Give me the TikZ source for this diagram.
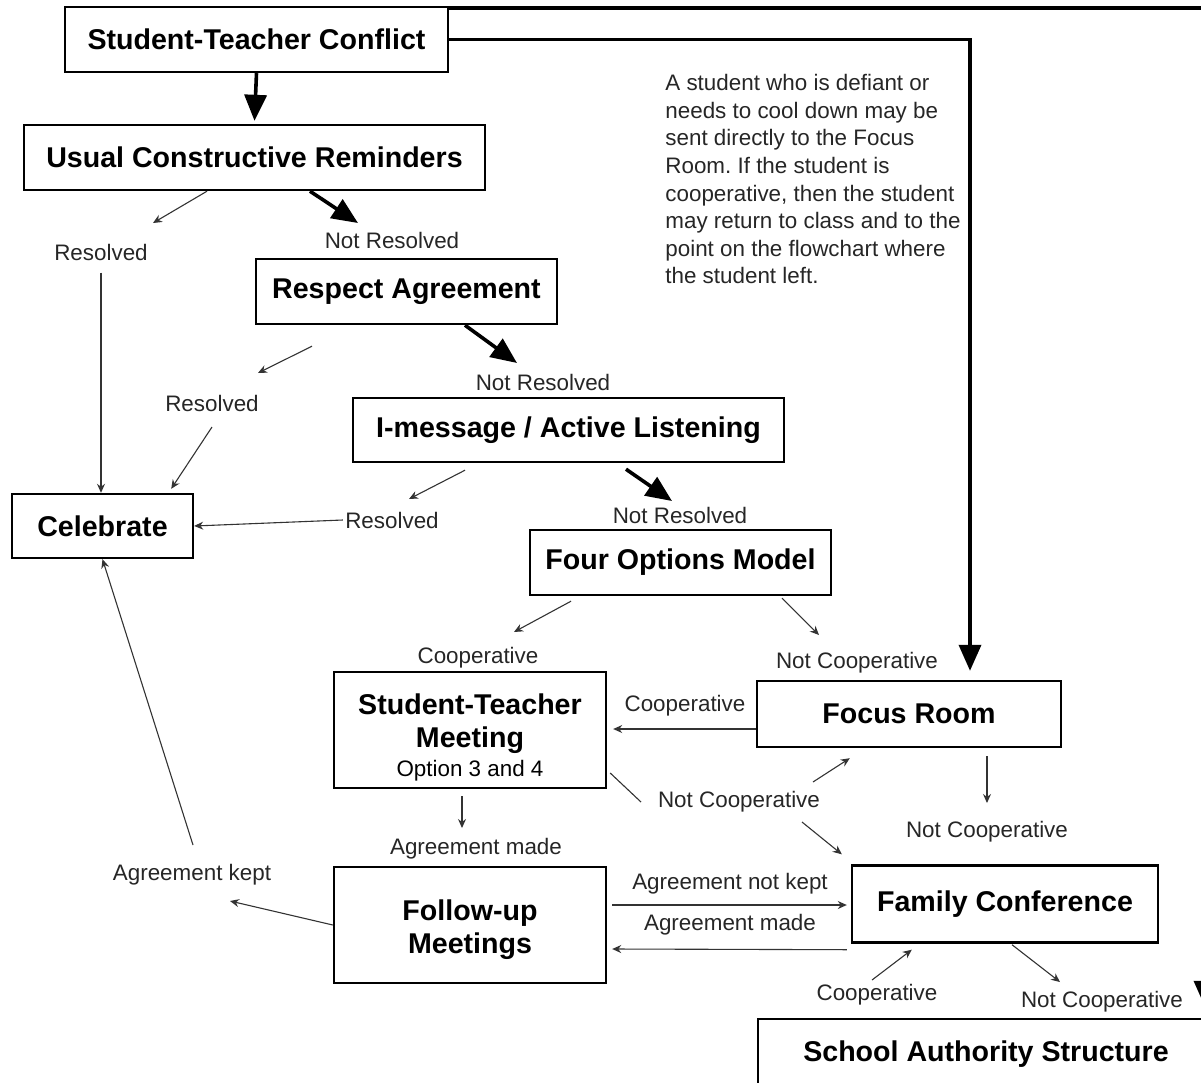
\documentclass[tikz,border=0pt]{standalone}
\usepackage{fontspec}
\setmainfont{Liberation Sans}
\usepackage{tikz}
\usetikzlibrary{positioning, calc, arrows.meta}
\frenchspacing
\tikzset{
    box/.style={
        draw, rectangle,
        line width=1.2pt,
        inner sep=0pt,
        align=center,
        font=\fontsize{14.3pt}{16.5pt}\selectfont\bfseries
    },
    boxtext/.style={
        inner sep=0pt,
        align=center,
        font=\fontsize{14.3pt}{16.5pt}\selectfont\bfseries
    },
    lbl/.style={
        inner sep=1pt,
        text=black!85,
        font=\fontsize{11.2pt}{13.8pt}\selectfont
    },
    thinarr/.style={
        draw=black!80,
        line width=0.55pt,
        ->,>={Stealth[length=4.5pt,width=4pt]}
    },
    thickarr/.style={
        draw,
        line width=1.8pt,
        ->,>={Triangle[length=13pt,width=11pt]}
    },
    thinline/.style={draw=black!80, line width=0.55pt}
}

\begin{document}
\begin{tikzpicture}[x=0.5pt,y=-0.5pt]
        \useasboundingbox (0,0) rectangle (1201,1083);
        \clip (0,0) rectangle (1201,1083);

        \node[box, minimum width=191.5pt, minimum height=32.5pt] (conflict) at (256.5,39.5) {Student-Teacher Conflict};
        \node[box, minimum width=230.5pt, minimum height=32.5pt] (reminders) at (254.5,157.5) {Usual Constructive Reminders};
        \node[box, minimum width=150.5pt, minimum height=32.5pt] (respect) at (406.5,291.5) {Respect Agreement};
        \node[box, minimum width=215.5pt, minimum height=32pt] (imsg) at (568.5,430) {I-message / Active Listening};
        \node[box, minimum width=90.5pt, minimum height=32pt] (celebrate) at (102.5,526) {Celebrate};
        \node[box, minimum width=150.5pt, minimum height=32.5pt] (fourop) at (680.5,562.5) {Four Options Model};
        \node[box, minimum width=136pt, minimum height=58pt] (stmeet) at (470,730) {};
        \node[boxtext] (stmeetT) at (470,737.5) {Student-Teacher\\Meeting\\[-2pt]{\mdseries\fontsize{11.2pt}{13.8pt}\selectfont Option 3 and 4}};
        \node[box, minimum width=152pt, minimum height=33pt] (focus) at (909,714) {Focus Room};
        \node[box, minimum width=136pt, minimum height=58pt] (followup) at (470,925) {};
        \node[boxtext] (followupT) at (470,930) {Follow-up\\Meetings};
        \node[box, minimum width=153pt, minimum height=38.5pt] (family) at (1005,904) {Family Conference};
        \node[box, minimum width=228pt, minimum height=35.5pt] (authority) at (986,1054.5) {School Authority Structure};

        \node[lbl] (resA) at (101,252) {Resolved};
        \node[lbl] (notresA) at (392,240) {Not Resolved};
        \node[lbl] (resB) at (212,403) {Resolved};
        \node[lbl] (notresB) at (543,382) {Not Resolved};
        \node[lbl] (resC) at (392,520) {Resolved};
        \node[lbl] (notresC) at (680,515) {Not Resolved};
        \node[lbl] (coopA) at (478,658) {Cooperative};
        \node[lbl] (notcoopA) at (857,663) {Not Cooperative};
        \node[lbl] (coopB) at (685,706) {Cooperative};
        \node[lbl] (notcoopB) at (739,802) {Not Cooperative};
        \node[lbl] (notcoopC) at (987,832) {Not Cooperative};
        \node[lbl] (agrmadeA) at (476,849) {Agreement made};
        \node[lbl] (agrkept) at (192,875) {Agreement kept};
        \node[lbl] (notkept) at (730,884) {Agreement not kept};
        \node[lbl] (agrmadeB) at (730,925) {Agreement made};
        \node[lbl] (coopC) at (877,995) {Cooperative};
        \node[lbl] (notcoopD) at (1102,1002) {Not Cooperative};

        \node[lbl, inner sep=0pt, align=left, anchor=north west] (note) at (665,74) {A student who is defiant or\\needs to cool down may be\\sent directly to the Focus\\Room. If the student is\\cooperative, then the student\\may return to class and to the\\point on the flowchart where\\the student left.};

        \draw[thickarr] (conflict.south) -- ([yshift=1.5pt]reminders.north);
        \draw[thickarr] (conflict.east) -| ($(focus.north)+(61,-9)$);
        \draw[thickarr] ($(conflict.north east)+(0,2)$) -| ($(authority.north)+(219,-11)$);

        \draw[thinarr] ($(reminders.south)+(-47.5,0)$) -- ($(resA)+(52,-29)$);
        \draw[thickarr] ($(reminders.south)+(55.5,0)$) -- ($(notresA)+(-34,-17)$);
        \draw[thinarr, shorten <=5pt] (resA.south) -- (resA.south |- celebrate.north);

        \draw[thinarr] ($(respect.south)+(-94.5,21)$) -- ($(resB)+(46,-30)$);
        \draw[thickarr] ($(respect.south)+(58.5,0)$) -- ($(notresB)+(-26,-19)$);
        \draw[thinarr] ($(resB)+(0,24)$) -- ($(celebrate.north east)+(-23,-4)$);

        \draw[thinarr] ($(imsg.south)+(-103.5,7)$) -- ($(resC)+(17,-21)$);
        \draw[thickarr] ($(imsg.south)+(57.5,6)$) -- ($(notresC)+(-8,-14)$);
        \draw[thinarr] (resC.west) -- (celebrate.east);

        \draw[thinarr] ($(fourop.south)+(-109.5,5)$) -- ($(coopA)+(36,-26)$);
        \draw[thinarr] ($(fourop.south)+(101.5,2)$) -- ($(notcoopA)+(-38,-28)$);

        \draw[thinarr, shorten >=3pt] ($(focus.west)+(0,15)$) -- ($(stmeet.east)+(0,-1)$);
        \draw[thinline] ($(stmeet.east)+(3,43)$) -- ($(notcoopB)+(-98,0)$);
        \draw[thinarr] ($(notcoopB)+(74,-20)$) -- ($(focus.south west)+(94,10)$);
        \draw[thinarr] ($(notcoopB)+(63,20)$) -- ($(family.north west)+(-9,-10)$);
        \draw[thinarr] ($(focus.south)+(78,8)$) -- ($(notcoopC)+(0,-29)$);

        \draw[thinarr] ($(stmeet.south)+(-8,7)$) -- ($(agrmadeA)+(-14,-21)$);
        \draw[thinarr] (followup.west) -- ($(agrkept)+(38,26)$);
        \draw[thinarr] ($(agrkept)+(1,-30)$) -- (celebrate.south);
        \draw[thinarr] ($(followup.east)+(5,-20)$) -- ($(family.west)+(-4,1)$);
        \draw[thinarr] ($(family.south west)+(-4,6)$) -- ($(followup.east)+(5,24)$);

        \draw[thinarr] ($(coopC)+(-5,-15)$) -- ($(family.south west)+(61,6)$);
        \draw[thinarr] ($(family.south)+(7,1)$) -- ($(notcoopD)+(-42,-20)$);
    \end{tikzpicture}
\end{document}
